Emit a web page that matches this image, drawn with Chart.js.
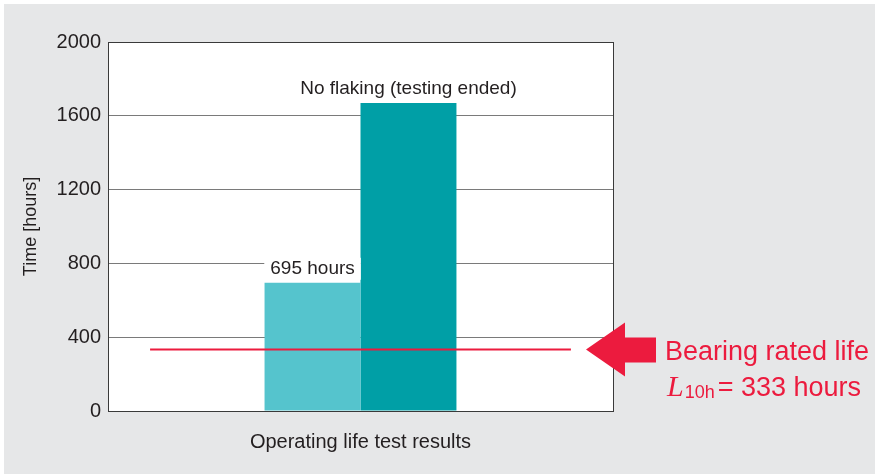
<!DOCTYPE html>
<html>
<head>
<meta charset="utf-8">
<script src="https://cdn.jsdelivr.net/npm/chart.js@4"></script>
<style>
  html, body { margin: 0; padding: 0; background: #ffffff; }
  #wrap { width: 875px; height: 474px; }
</style>
</head>
<body>
<div id="wrap"><canvas id="lifeChart" width="875" height="474"></canvas></div>
<script>
// Operating life test data
const categories = ['Operating life test results'];
const seriesNames = ['Flaked', 'No flaking'];
const seriesValues = [695, 1670];
const barNotes = ['695 hours', 'No flaking (testing ended)'];
const yTicks = [0, 400, 800, 1200, 1600, 2000];

// bearing rated life L10h
const ratedLife = 333;
const ratedSpan = [1, 11]; // on hidden 0..12 axis

const barColors = ['#55c4cd', '#009fa6'];
const red = '#ec1b3e';
const ink = '#231f20';
const FONT = '"Liberation Sans", Arial, sans-serif';

// gray panel + frame around plot
const backdrop = {
    id: 'backdrop',
    beforeDraw(chart) {
        const ctx = chart.ctx;
        ctx.save();
        ctx.fillStyle = '#ffffff';
        ctx.fillRect(0, 0, chart.width, chart.height);
        ctx.fillStyle = '#e6e7e8';
        ctx.fillRect(4, 4, chart.width - 4, chart.height - 4);
        const a = chart.chartArea;
        ctx.fillStyle = '#ffffff';
        ctx.fillRect(a.left, a.top, a.right - a.left, a.bottom - a.top);
        ctx.restore();
    },
    afterDraw(chart) {
        const ctx = chart.ctx;
        const a = chart.chartArea;
        ctx.save();
        ctx.strokeStyle = '#3a3a3a';
        ctx.lineWidth = 1;
        ctx.strokeRect(Math.round(a.left) + 0.5, Math.round(a.top) + 0.5,
            Math.round(a.right - a.left), Math.round(a.bottom - a.top));
        ctx.restore();
    }
};

// rated life line, labels above bars, arrow + note
const notes = {
    id: 'notes',
    afterDatasetsDraw(chart) {
        const ctx = chart.ctx;
        const y = chart.scales.y.getPixelForValue(ratedLife);
        const xs = chart.scales.x2;
        ctx.save();
        ctx.strokeStyle = red;
        ctx.lineWidth = 2;
        ctx.beginPath();
        ctx.moveTo(xs.getPixelForValue(ratedSpan[0]), y);
        ctx.lineTo(xs.getPixelForValue(ratedSpan[1]), y);
        ctx.stroke();
        ctx.restore();
    },
    afterDraw(chart) {
        const ctx = chart.ctx;
        ctx.save();
        ctx.font = '19px ' + FONT;
        ctx.textAlign = 'center';
        ctx.textBaseline = 'alphabetic';
        barNotes.forEach((txt, i) => {
            const bar = chart.getDatasetMeta(i).data[0];
            const w = ctx.measureText(txt).width;
            const yb = bar.y - 9;
            ctx.fillStyle = '#ffffff';
            ctx.fillRect(bar.x - w / 2 - 6, yb - 16, w + 12, 22);
            ctx.fillStyle = ink;
            ctx.fillText(txt, bar.x, yb);
        });

        // arrow
        const y = chart.scales.y.getPixelForValue(ratedLife);
        const x0 = chart.chartArea.right - 27;
        ctx.fillStyle = red;
        ctx.beginPath();
        ctx.moveTo(x0, y);
        ctx.lineTo(x0 + 39, y - 27);
        ctx.lineTo(x0 + 39, y - 12);
        ctx.lineTo(x0 + 70, y - 12);
        ctx.lineTo(x0 + 70, y + 13);
        ctx.lineTo(x0 + 39, y + 13);
        ctx.lineTo(x0 + 39, y + 27);
        ctx.closePath();
        ctx.fill();

        // text
        const tx = x0 + 79;
        ctx.textAlign = 'left';
        ctx.font = '27px ' + FONT;
        ctx.fillText('Bearing rated life', tx, y + 10);
        ctx.font = 'italic 30px "Liberation Serif", "Times New Roman", serif';
        ctx.fillText('L', tx + 2, y + 46);
        let cx = tx + 2 + ctx.measureText('L').width + 1;
        ctx.font = '18px ' + FONT;
        ctx.fillText('10h', cx, y + 48);
        cx += ctx.measureText('10h').width + 3;
        ctx.font = '27px ' + FONT;
        ctx.fillText('= ' + ratedLife + ' hours', cx, y + 46);
        ctx.restore();
    }
};

new Chart(document.getElementById('lifeChart'), {
    type: 'bar',
    data: {
        labels: categories,
        datasets: [
            {
                label: seriesNames[0],
                data: [seriesValues[0]],
                backgroundColor: barColors[0],
                categoryPercentage: 0.38,
                barPercentage: 1.0
            },
            {
                label: seriesNames[1],
                data: [seriesValues[1]],
                backgroundColor: barColors[1],
                categoryPercentage: 0.38,
                barPercentage: 1.0
            }
        ]
    },
    options: {
        responsive: false,
        animation: false,
        layout: { padding: { left: 14, top: 42, right: 262, bottom: 0 } },
        plugins: {
            legend: { display: false },
            tooltip: { enabled: false }
        },
        scales: {
            x: {
                grid: { display: false, drawTicks: false },
                border: { display: false },
                ticks: {
                    color: ink,
                    font: { family: FONT, size: 20 },
                    padding: 19
                },
                afterFit(scale) { scale.height = 63; }
            },
            x2: {
                type: 'linear',
                display: false,
                offset: false,
                min: 0,
                max: 12
            },
            y: {
                min: 0,
                max: 2000,
                afterBuildTicks(scale) {
                    scale.ticks = yTicks.map(v => ({ value: v }));
                },
                grid: { color: '#7a7a7a', lineWidth: 1, drawTicks: false },
                border: { display: false },
                ticks: {
                    color: ink,
                    font: { family: FONT, size: 20 },
                    padding: 7,
                    callback: v => String(v)
                },
                title: {
                    display: true,
                    text: 'Time [hours]',
                    color: ink,
                    font: { family: FONT, size: 18 },
                    padding: { top: 6, bottom: 0 }
                },
                afterFit(scale) { scale.width = 94; }
            }
        }
    },
    plugins: [backdrop, notes]
});
</script>
</body>
</html>
